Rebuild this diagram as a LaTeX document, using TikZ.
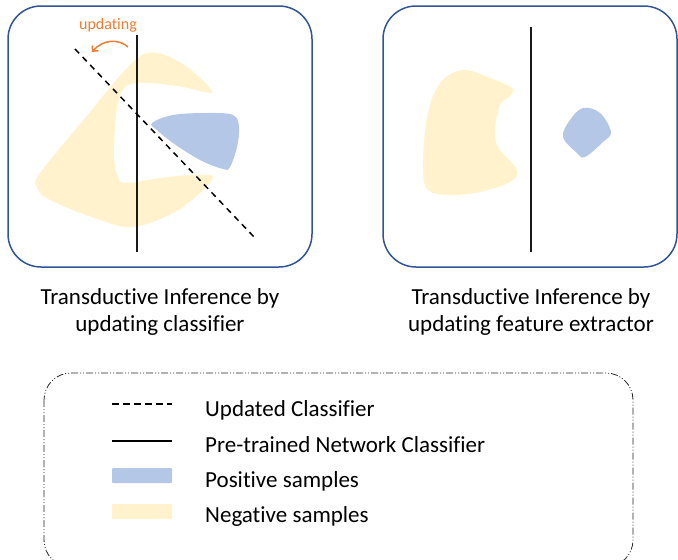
\documentclass[tikz,border=0pt]{standalone}
\usepackage{fontspec}
\setmainfont{Carlito}[Ligatures=NoCommon]
\usetikzlibrary{arrows.meta}
\definecolor{posblue}{HTML}{B4C7E7}
\definecolor{negyellow}{HTML}{FFF2CC}
\definecolor{boxblue}{HTML}{2F5597}
\definecolor{updorange}{HTML}{ED7D31}
\tikzset{
  panel/.style={draw=boxblue, line width=1.5pt, rounded corners=33pt},
  classline/.style={draw=black!90, line width=1.6pt},
  updline/.style={draw=black, line width=1.5pt, dash pattern=on 6pt off 5pt},
  captxt/.style={font=\fontsize{23}{27}\selectfont, anchor=base, inner sep=0pt},
  legtxt/.style={font=\fontsize{23}{27}\selectfont, anchor=base west, inner sep=0pt},
  legbox/.style={draw=black!85, line width=0.8pt, rounded corners=27pt,
    dash pattern=on 7pt off 2pt on 1pt off 2pt on 1pt off 2pt},
}
\begin{document}
\begin{tikzpicture}[x=1pt,y=-1pt]
\useasboundingbox (0,0) rectangle (678,560);

% panels
\draw[panel] (8,6) rectangle (312,267);
\draw[panel] (383,6) rectangle (677,267);

% left panel shapes
\fill[negyellow] plot[smooth cycle, tension=0.6] coordinates {(212,92) (187,67) (157,53) (133,62) (85,118) (40,173) (37,187) (50,200) (100,220) (133,227) (173,213) (200,193) (213,177) (200,175) (167,177) (127,183) (118,177) (114,157) (115,127) (119,98) (128,85) (150,83) (183,87)};
\fill[posblue] plot[smooth cycle, tension=0.6] coordinates {(152,123) (173,115) (207,113) (233,115) (239,127) (237,147) (230,167) (223,169) (200,160) (173,143) (157,130)};

\coordinate (lt) at (137,35);
\coordinate (lb) at (137,252);
\draw[classline] (lt) -- (lb);
\coordinate (dt) at (75,49);
\coordinate (db) at (255,238);
\draw[updline] (dt) -- (db);

\coordinate (as) at (128,47);
\coordinate (ae) at (92,52);
\draw[draw=updorange, line width=1.5pt, -{Straight Barb[length=4pt,width=8pt]}] (as) .. controls (118,38) and (102,40) .. (ae);
\node[font=\fontsize{16}{19}\selectfont, text=updorange, anchor=base, inner sep=0pt] (upd) at (108,29) {updating};

% right panel shapes
\fill[negyellow] plot[smooth cycle, tension=0.6] coordinates {(463,70) (490,78) (512,88) (510,96) (500,105) (495,128) (498,147) (517,170) (510,182) (480,192) (450,195) (428,190) (423,167) (427,117) (440,83)};
\fill[posblue] plot[smooth cycle, tension=0.6] coordinates {(583,108) (600,113) (611,132) (603,142) (585,157) (577,153) (563,137) (570,120)};
\coordinate (rt) at (531,27);
\coordinate (rb) at (531,252);
\draw[classline] (rt) -- (rb);

% captions
\node[captxt] (c1a) at (160,304) {Transductive Inference by};
\node[captxt] (c1b) at (160,331) {updating classifier};
\node[captxt] (c2a) at (531,304) {Transductive Inference by};
\node[captxt] (c2b) at (531,331) {updating feature extractor};

% legend
\draw[legbox] (44,373) rectangle (633,567);
\coordinate (l1a) at (112,404);
\coordinate (l1b) at (172,404);
\draw[draw=black, line width=1.2pt, dash pattern=on 7pt off 4pt] (l1a) -- (l1b);
\coordinate (l2a) at (112,441);
\coordinate (l2b) at (172,441);
\draw[draw=black, line width=1.5pt] (l2a) -- (l2b);
\fill[posblue, rounded corners=1pt] (112,468) rectangle (172,483);
\fill[negyellow, rounded corners=1pt] (112,504) rectangle (172,519);
\node[legtxt] (t1) at (205,416) {Updated Classifier};
\node[legtxt] (t2) at (205,452) {Pre-trained Network Classifier};
\node[legtxt] (t3) at (205,487) {Positive samples};
\node[legtxt] (t4) at (205,522) {Negative samples};
\end{tikzpicture}
\end{document}
